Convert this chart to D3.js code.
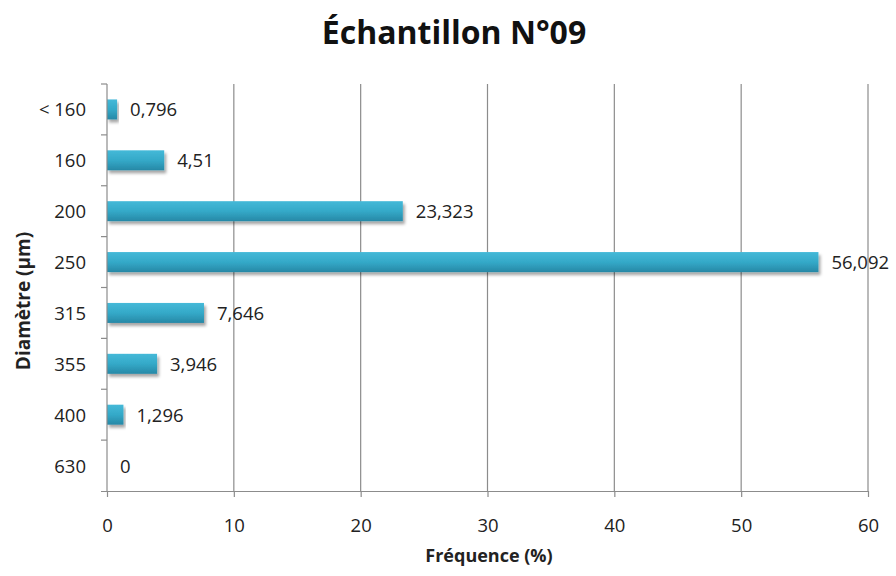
<!DOCTYPE html>
<html><head><meta charset="utf-8">
<script src="https://cdn.jsdelivr.net/npm/d3@7"></script>
<style>body{margin:0;background:#fff}svg{display:block}</style>
</head><body>
<svg id="c" width="896" height="576"></svg>
<script>
const categories = ["< 160","160","200","250","315","355","400","630"];
const values = [0.796, 4.51, 23.323, 56.092, 7.646, 3.946, 1.296, 0];
const labels = ["0,796","4,51","23,323","56,092","7,646","3,946","1,296","0"];
const xTicks = [0,10,20,30,40,50,60];

const svg = d3.select("#c");
const m = {l:107, r:28, t:84, b:85};
const W = 896, H = 576;
const x = d3.scaleLinear().domain([0,60]).range([m.l, W-m.r]);
const y = d3.scaleBand().domain(categories).range([m.t, H-m.b]).paddingInner(0).paddingOuter(0);
const font = "'Open Sans', sans-serif";
const fs = 18.5;

const defs = svg.append("defs");
const g = defs.append("linearGradient").attr("id","bg").attr("x1",0).attr("y1",0).attr("x2",0).attr("y2",1);
g.append("stop").attr("offset","0%").attr("stop-color","#45b9d8");
g.append("stop").attr("offset","50%").attr("stop-color","#34a9c8");
g.append("stop").attr("offset","100%").attr("stop-color","#2788a6");
const f = defs.append("filter").attr("id","sh").attr("x","-5%").attr("y","-30%").attr("width","115%").attr("height","180%");
f.append("feDropShadow").attr("dx",2).attr("dy",3).attr("stdDeviation",1.6).attr("flood-color","#000").attr("flood-opacity",0.35);

// gridlines
svg.append("g").selectAll("line").data(xTicks.slice(1)).join("line")
  .attr("x1",d=>x(d)).attr("x2",d=>x(d)).attr("y1",m.t).attr("y2",H-m.b)
  .attr("stroke","#8c8c8c").attr("stroke-width",1.2);

// bars
const bh = 20;
svg.append("g").selectAll("rect").data(values).join("rect")
  .attr("x",x(0)).attr("y",(d,i)=>y(categories[i])+y.bandwidth()/2-bh/2)
  .attr("width",d=>Math.max(0,x(d)-x(0))).attr("height",bh)
  .attr("fill","url(#bg)").attr("filter","url(#sh)")
  .style("display",d=>d>0?null:"none");

// data labels
svg.append("g").selectAll("text").data(values).join("text")
  .attr("x",d=>x(d)+13).attr("y",(d,i)=>y(categories[i])+y.bandwidth()/2+2)
  .attr("dominant-baseline","middle")
  .attr("font-family",font).attr("font-size",fs).attr("fill","#222")
  .text((d,i)=>labels[i]);

// x axis
const xa = svg.append("g").attr("transform",`translate(0,${H-m.b})`)
  .call(d3.axisBottom(x).tickValues(xTicks).tickSize(6).tickPadding(22).tickFormat(d=>d));
xa.select(".domain").attr("stroke","#8c8c8c").attr("stroke-width",1.2).attr("d",`M${m.l-6},0.5H${W-m.r}`);
xa.selectAll(".tick line").attr("stroke","#8c8c8c").attr("stroke-width",1.2);
xa.selectAll("text").attr("font-family",font).attr("font-size",fs).attr("fill","#222");

// y axis
const ya = svg.append("g").attr("transform",`translate(${m.l},0)`);
ya.append("line").attr("x1",0).attr("x2",0).attr("y1",m.t).attr("y2",H-m.b).attr("stroke","#8c8c8c").attr("stroke-width",1.2);
const bounds = categories.map(c=>y(c));
ya.selectAll(".tk").data(bounds).join("line").attr("class","tk")
  .attr("x1",-6).attr("x2",0).attr("y1",d=>d).attr("y2",d=>d).attr("stroke","#8c8c8c").attr("stroke-width",1.2);
ya.selectAll("text").data(categories).join("text")
  .attr("x",-21).attr("y",d=>y(d)+y.bandwidth()/2+2).attr("text-anchor","end").attr("dominant-baseline","middle")
  .attr("font-family",font).attr("font-size",fs).attr("fill","#222").text(d=>d);

// titles
svg.append("text").attr("x",454).attr("y",44).attr("text-anchor","middle")
  .attr("font-family",font).attr("font-weight","bold").attr("font-size",32).attr("fill","#111")
  .text("Échantillon N°09");
svg.append("text").attr("x",489).attr("y",562).attr("text-anchor","middle")
  .attr("font-family",font).attr("font-weight","bold").attr("font-size",18).attr("fill","#222")
  .text("Fréquence (%)");
svg.append("text").attr("transform","translate(30,301) rotate(-90)").attr("text-anchor","middle")
  .attr("font-family",font).attr("font-weight","bold").attr("font-size",19).attr("fill","#222")
  .text("Diamètre (µm)");
</script>
</body></html>
